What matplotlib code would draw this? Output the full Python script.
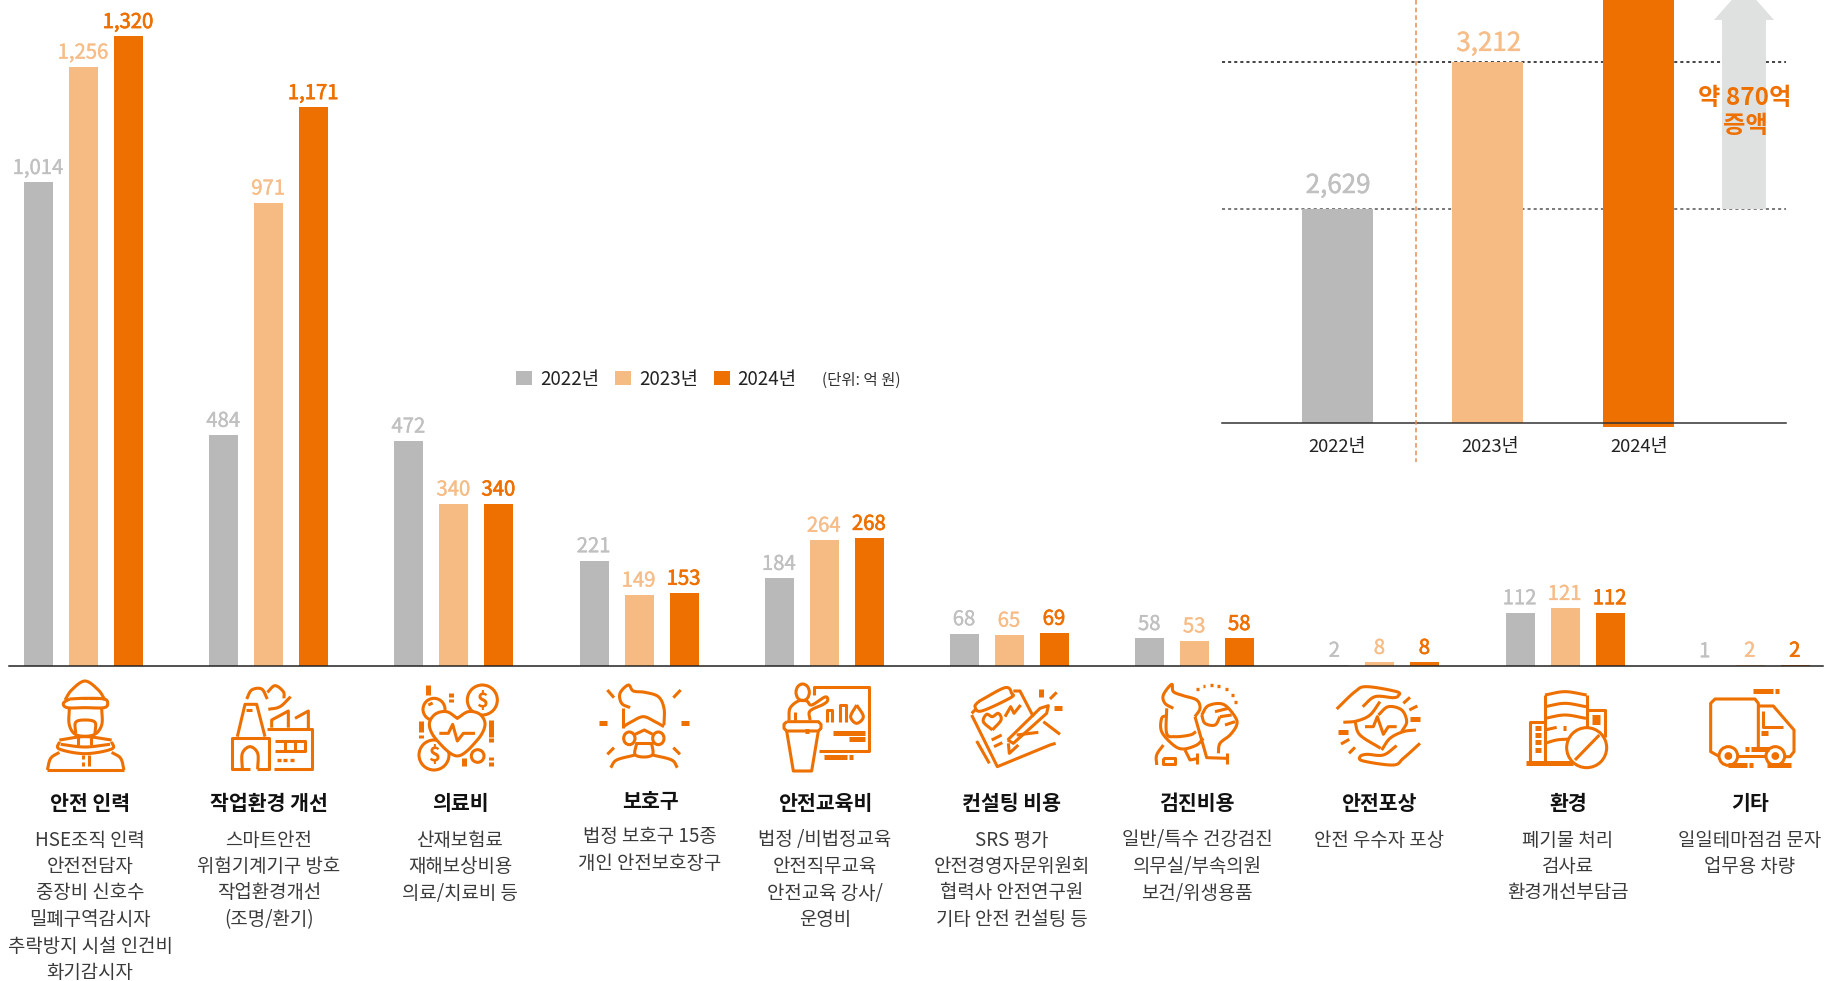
import matplotlib
matplotlib.use("Agg")
import matplotlib.pyplot as plt
import matplotlib.patheffects as pe
from matplotlib.patches import Ellipse, Polygon
import numpy as np

plt.rcParams['font.family'] = ['Noto Sans CJK KR', 'DejaVu Sans']

W, H = 1837, 981
GRAY = '#b8b9b8'
LIGHT = '#f6ba83'
ORANGE = '#ee7000'
LABEL_COLORS = ['#bfc0bf', '#f7bd88', ORANGE]

years = ['2022년', '2023년', '2024년']
values_2022 = [1014, 484, 472, 221, 184, 68, 58, 2, 112, 1]
values_2023 = [1256, 971, 340, 149, 264, 65, 53, 8, 121, 2]
values_2024 = [1320, 1171, 340, 153, 268, 69, 58, 8, 112, 2]
totals = [2629, 3212, 3501]

titles = ['안전 인력', '작업환경 개선', '의료비', '보호구', '안전교육비',
          '컨설팅 비용', '검진비용', '안전포상', '환경', '기타']
details = [
    ['HSE조직 인력', '안전전담자', '중장비 신호수', '밀폐구역감시자', '추락방지 시설 인건비', '화기감시자'],
    ['스마트안전', '위험기계기구 방호', '작업환경개선', '(조명/환기)'],
    ['산재보험료', '재해보상비용', '의료/치료비 등'],
    ['법정 보호구 15종', '개인 안전보호장구'],
    ['법정 /비법정교육', '안전직무교육', '안전교육 강사/', '운영비'],
    ['SRS 평가', '안전경영자문위원회', '협력사 안전연구원', '기타 안전 컨설팅 등'],
    ['일반/특수 건강검진', '의무실/부속의원', '보건/위생용품'],
    ['안전 우수자 포상'],
    ['폐기물 처리', '검사료', '환경개선부담금'],
    ['일일테마점검 문자', '업무용 차량'],
]
text_x = [90, 269, 460, 650, 825, 1012, 1197, 1379, 1568, 1750]


def px_axes(left, top, right, bottom, **kw):
    return fig.add_axes([left / W, 1 - bottom / H, (right - left) / W, (bottom - top) / H],
                        facecolor='none', **kw)


def heavier(color, width):
    return [pe.withStroke(linewidth=width, foreground=color)]


fig = plt.figure(figsize=(W / 100, H / 100), dpi=100, facecolor='white')

# main grouped bars
ax = px_axes(9, 0, 1823, 666, zorder=1)
step = 185.2
ax.set_xlim((9 - 83.5) / step, (1823 - 83.5) / step)
ax.set_ylim(0, 666 / 0.477)
x = np.arange(len(titles))
bar_w = 29 / step
off = 45 / step
series = [values_2022, values_2023, values_2024]
containers = []
for i, vals in enumerate(series):
    c = ax.bar(x + (i - 1) * off, vals, bar_w, color=[GRAY, LIGHT, ORANGE][i], label=years[i], zorder=2)
    containers.append(c)
    for xi, v in zip(x, vals):
        ax.annotate(f'{v:,}', (xi + (i - 1) * off, v), xytext=(-0.4, 6.0), textcoords='offset points',
                    ha='center', va='baseline', fontsize=14.6, color=LABEL_COLORS[i],
                    path_effects=heavier(LABEL_COLORS[i], 0.5 if i == 2 else 0.25), annotation_clip=False)
for s in ['top', 'left', 'right']:
    ax.spines[s].set_visible(False)
ax.spines['bottom'].set_color('#222222')
ax.spines['bottom'].set_linewidth(1.1)
ax.spines['bottom'].set_zorder(5)
ax.set_xticks([])
ax.set_yticks([])

fig.legend(handles=containers, loc='center left', bbox_to_anchor=(516 / W, 1 - 379 / H), ncol=3,
           frameon=False, fontsize=13.5, handlelength=0.85, handleheight=0.85, handletextpad=0.42,
           columnspacing=0.86, borderpad=0, borderaxespad=0, labelcolor='#222222')

# totals inset, axis does not start at zero
inset = px_axes(1222, 0, 1786, 423, zorder=2)
inset.set_xlim((1222 - 1337) / 150.5, (1786 - 1337) / 150.5)
inset.set_ylim(1780, 3458)
inset.axhline(totals[0], color='#555555', lw=1.1, ls=(0, (2, 2)), zorder=1)
inset.axhline(totals[1], color='#111111', lw=1.1, ls=(0, (2, 2)), zorder=1)
inset_bottom = np.array([1780, 1780, 1764])
inset.bar(np.arange(3), np.array(totals) - inset_bottom, 71 / 150.5, bottom=inset_bottom,
          color=[GRAY, LIGHT, ORANGE], zorder=2, clip_on=False)
for i, dy in zip(range(2), [11.5, 8.0]):
    inset.annotate(f'{totals[i]:,}', (i, totals[i]), xytext=(0.8, dy), textcoords='offset points',
                   ha='center', va='baseline', fontsize=18.7, color=LABEL_COLORS[i],
                   path_effects=heavier(LABEL_COLORS[i], 0.3))
for s in ['top', 'left', 'right']:
    inset.spines[s].set_visible(False)
inset.spines['bottom'].set_color('#333333')
inset.spines['bottom'].set_linewidth(1.1)
inset.spines['bottom'].set_zorder(5)
inset.set_xticks([0, 1.017, 2.01], years, fontsize=13.3, color='#222222')
inset.set_yticks([])
inset.tick_params(axis='x', length=0, pad=11)

# overlay in reference pixels for icons and free text
px = px_axes(0, 0, W, H, zorder=3)
px.set_xlim(0, W)
px.set_ylim(H, 0)
px.axis('off')

px.plot([1416, 1416], [0, 462], color='#e98a4e', lw=1.1, ls=(0, (3, 2)))
px.add_patch(Polygon([(1722, 209), (1722, 20), (1714, 20), (1744, -14), (1774, 20), (1766, 20), (1766, 209)],
                     closed=True, facecolor='#dfe1e0', edgecolor='none', zorder=2))
px.text(1745, 98, '약 870억', ha='center', va='center', fontsize=17.5, fontweight='bold', color=ORANGE, zorder=4)
px.text(1745, 126, '증액', ha='center', va='center', fontsize=17.5, fontweight='bold', color=ORANGE, zorder=4)
px.text(861, 380, '(단위: 억 원)', ha='center', va='center', fontsize=11.2, color='#333333')

for i, (t, lines) in enumerate(zip(titles, details)):
    shift = -3 if t == '보호구' else 0
    px.text(text_x[i], 804 + shift, t, ha='center', va='center', fontsize=14.8, fontweight='bold', color='#111111')
    for k, line in enumerate(lines):
        px.text(text_x[i], 840 + shift + k * 26.5, line, ha='center', va='center', fontsize=13.6, color='#3a3a3a')


def smooth(pts, n=12):
    p = np.array(pts, float)
    p = np.vstack([2 * p[0] - p[1], p, 2 * p[-1] - p[-2]])
    out = []
    for a, b, c, d in zip(p[:-3], p[1:-2], p[2:-1], p[3:]):
        for t in np.linspace(0, 1, n, endpoint=False):
            out.append(0.5 * (2 * b + (c - a) * t + (2 * a - 5 * b + 4 * c - d) * t ** 2 + (3 * b - a - 3 * c + d) * t ** 3))
    out.append(p[-2])
    return np.array(out)


class Icon:
    def __init__(self, ox, oy):
        self.ox, self.oy = ox, oy

    def _xy(self, p):
        p = np.asarray(p, float)
        return np.column_stack([self.ox + p[:, 0] / 3, self.oy + p[:, 1] / 3])

    def _draw(self, p, lw, z=3):
        q = self._xy(p)
        px.plot(q[:, 0], q[:, 1], color=ORANGE, lw=lw, solid_capstyle='butt', solid_joinstyle='round', zorder=z)

    def line(self, *pts, lw=2.2, z=3):
        self._draw(pts, lw, z)

    def curve(self, *pts, lw=2.2, z=3):
        self._draw(smooth(pts), lw, z)

    def thick(self, *pts):
        self._draw(pts, 3.6)

    def ring(self, cx, cy, r, ry=None, fill=False, z=3):
        ry = r if ry is None else ry
        px.add_patch(Ellipse((self.ox + cx / 3, self.oy + cy / 3), 2 * r / 3, 2 * ry / 3,
                             facecolor=ORANGE if fill else 'white', edgecolor=ORANGE, lw=2.2, zorder=z))

    def blob(self, *pts, z=3.5):
        # white filled smooth outline, hides what lies under it
        px.add_patch(Polygon(self._xy(smooth(pts)), closed=True, facecolor='white', edgecolor=ORANGE, lw=2.2, zorder=z))

    def dollar(self, cx, cy):
        px.text(self.ox + cx / 3, self.oy + cy / 3, '$', ha='center', va='center', fontsize=14.5,
                fontweight='bold', color=ORANGE, zorder=4)


# worker
a = Icon(30, 675)
a.curve((105, 75), (125, 45), (165, 18), (205, 45), (225, 75))
a.curve((118, 72), (165, 70), (222, 72), (233, 85), (222, 98), (165, 98), (112, 98), (100, 85), (118, 72))
a.line((160, 68), (170, 68)); a.line((178, 68), (205, 68))
a.curve((118, 98), (118, 150), (140, 180), (190, 180), (215, 150), (215, 98))
a.curve((137, 175), (137, 142), (165, 135), (195, 142), (195, 175))
a.curve((88, 195), (165, 185), (245, 195))
a.curve((88, 200), (88, 222), (165, 236), (245, 222), (245, 200))
a.curve((92, 208), (165, 216), (240, 208))
a.line((145, 180), (145, 210)); a.line((182, 180), (182, 210))
a.curve((88, 232), (62, 250), (52, 285)); a.line((52, 286), (282, 286))
a.curve((245, 232), (272, 250), (282, 285))
a.line((178, 240), (178, 272)); a.line((158, 240), (158, 252)); a.line((158, 260), (158, 272))

# factory
a.line((622, 185), (645, 88), (680, 88), (705, 185)); a.line((648, 105), (665, 105))
a.line((660, 283), (607, 283), (607, 190), (717, 190), (717, 283), (680, 283))
a.curve((637, 283), (637, 235), (660, 215), (683, 235), (683, 283))
a.line((712, 163), (845, 163), (845, 283), (732, 283))
a.line((725, 158), (725, 135), (775, 108), (775, 158)); a.line((795, 130), (835, 108), (835, 160))
a.line((735, 197), (825, 197), (825, 228), (735, 228)); a.line((765, 197), (765, 228)); a.line((795, 197), (795, 228))
a.line((742, 255), (752, 255), lw=2.4); a.line((760, 255), (770, 255), lw=2.4); a.line((780, 255), (792, 255), lw=2.4)
a.curve((650, 72), (665, 45), (695, 42), (712, 72))
a.curve((712, 52), (735, 32), (760, 50), (762, 70))
a.curve((715, 103), (750, 95), (782, 65))

# heart and coins
a.ring(1212, 103, 33); a.line((1195, 90), (1208, 84), z=3.2)
a.ring(1357, 75, 45); a.dollar(1357, 75)
a.ring(1212, 240, 45); a.dollar(1212, 240)
a.ring(1343, 243, 19)
a.blob((1282, 130), (1250, 110), (1215, 118), (1198, 150), (1220, 195), (1282, 243),
       (1342, 195), (1365, 150), (1350, 118), (1315, 110), (1282, 130))
a.line((1228, 175), (1255, 175), (1268, 148), (1282, 198), (1300, 175), (1335, 175), z=4)
a.thick((1193, 30), (1193, 60)); a.thick((1173, 138), (1173, 172)); a.thick((1173, 180), (1173, 190))
a.thick((1383, 135), (1383, 185)); a.thick((1383, 190), (1383, 200))
a.thick((1262, 55), (1262, 65)); a.thick((1262, 72), (1262, 82)); a.thick((1302, 250), (1302, 272))
a.thick((1383, 245), (1383, 255)); a.thick((1383, 262), (1383, 272))

# head with respirator
a = Icon(590, 675)
a.curve((120, 98), (95, 85), (90, 55), (115, 30), (130, 48), (165, 52), (205, 65), (222, 100), (222, 150))
a.line((100, 98), (100, 160))
a.curve((100, 155), (125, 140), (160, 125), (195, 140), (222, 155))
a.ring(118, 190, 17, 19); a.ring(205, 190, 17, 19)
a.line((135, 178), (163, 165), (188, 178))
a.line((135, 205), (188, 205))
a.curve((140, 205), (135, 238), (162, 246), (188, 238), (185, 205))
a.curve((62, 278), (80, 255), (135, 240)); a.curve((188, 240), (245, 255), (262, 278))
a.line((52, 45), (72, 68)); a.line((272, 45), (250, 68)); a.line((52, 238), (72, 218)); a.line((270, 238), (250, 218))
a.thick((27, 143), (50, 143)); a.thick((273, 143), (297, 143))

# lecture
a.line((672, 60), (672, 35), (838, 35), (838, 228), (688, 228))
a.ring(638, 52, 20, 25)
a.curve((597, 135), (600, 100), (625, 78), (650, 78), (665, 90), (705, 66), (713, 76), (700, 88), (660, 108), (660, 135))
a.line((615, 110), (615, 135))
a.line((590, 140), (685, 140), (693, 148), (693, 160), (685, 168), (590, 168), (582, 160), (582, 148), (590, 140))
a.line((590, 168), (610, 288), (665, 288), (685, 168)); a.thick((645, 168), (657, 168))
a.line((710, 140), (710, 105), (725, 105), (725, 140)); a.line((750, 140), (750, 90), (768, 90), (768, 140))
a.curve((800, 90), (782, 125), (800, 145), (820, 125), (800, 90))
a.thick((730, 173), (825, 173)); a.thick((778, 192), (825, 192)); a.thick((702, 245), (770, 245)); a.thick((778, 245), (789, 245))

# consulting notepad
a.line((1145, 120), (1222, 275), (1380, 210), (1397, 205))
a.curve((1165, 80), (1245, 38), (1265, 55), (1262, 68), (1175, 108), (1155, 95), (1165, 80))
a.line((1270, 48), (1290, 48), (1330, 125)); a.line((1145, 115), (1160, 100))
a.curve((1207, 165), (1180, 140), (1190, 118), (1207, 125), (1225, 115), (1233, 135), (1207, 165))
a.line((1245, 125), (1262, 95), (1272, 115), (1292, 90))
a.line((1253, 195), (1350, 100), (1375, 92), (1370, 115), (1270, 205), (1253, 195))
a.line((1255, 205), (1258, 235), (1285, 210))
a.line((1205, 195), (1235, 180)); a.line((1212, 215), (1237, 203)); a.line((1160, 198), (1198, 265))
a.line((1360, 140), (1410, 178)); a.line((1280, 180), (1345, 172))
a.thick((1353, 42), (1353, 65)); a.line((1380, 72), (1400, 52)); a.thick((1392, 98), (1416, 98))

# checkup
a = Icon(1140, 675)
a.curve((100, 100), (75, 85), (70, 60), (95, 28), (100, 50), (130, 62), (170, 75), (180, 100), (165, 125))
a.curve((80, 100), (80, 175), (105, 185), (150, 180), (168, 170))
a.curve((80, 122), (65, 130), (65, 170), (100, 210), (130, 222), (170, 210), (190, 190))
a.curve((50, 270), (50, 240), (70, 210))
a.line((70, 248), (105, 248), (105, 268), (70, 268), (70, 248))
a.curve((185, 120), (205, 92), (250, 88), (285, 125), (290, 150), (270, 180), (240, 205), (235, 235))
a.curve((185, 120), (195, 145), (225, 150), (240, 125))
a.line((225, 110), (265, 100)); a.line((240, 125), (275, 120)); a.line((255, 150), (285, 140))
a.line((165, 125), (195, 230), (200, 248), (260, 250))
a.line((172, 235), (172, 268)); a.line((260, 235), (260, 268)); a.line((135, 225), (150, 255), (175, 250))
for d in [(172, 42), (192, 34), (214, 31), (236, 34), (259, 42), (278, 60), (286, 82)]:
    a.line((d[0] - 4, d[1]), (d[0] + 4, d[1]), lw=2.4)

# hands and heart
a.curve((590, 102), (645, 50), (680, 35), (770, 50), (775, 62), (760, 68), (705, 65), (668, 95))
a.curve((610, 142), (650, 138), (690, 120), (720, 80))
a.curve((645, 140), (660, 180), (722, 220))
a.curve((715, 120), (745, 95), (785, 105), (800, 140), (785, 170))
a.line((675, 155), (700, 155), (712, 125), (730, 178), (745, 155), (770, 155))
a.curve((828, 165), (790, 170), (750, 190), (725, 225))
a.curve((840, 205), (790, 250), (760, 270), (670, 258), (660, 245), (680, 238), (730, 240), (770, 212))
a.line((790, 85), (810, 67)); a.line((808, 105), (832, 93)); a.thick((810, 132), (840, 132))
a.thick((595, 170), (625, 170)); a.line((603, 207), (628, 193)); a.line((627, 235), (645, 217))

# building
a.thick((1158, 263), (1300, 263))
a.line((1215, 263), (1215, 60)); a.curve((1215, 60), (1275, 50), (1340, 60)); a.line((1340, 60), (1340, 160))
a.curve((1215, 95), (1275, 85), (1338, 95)); a.curve((1215, 130), (1275, 120), (1338, 130))
a.curve((1215, 165), (1250, 157)); a.curve((1215, 205), (1250, 195), (1290, 192))
a.thick((1268, 158), (1278, 158))
a.line((1170, 263), (1170, 140), (1212, 140))
for yy in (158, 180, 202, 226):
    a.thick((1185, yy), (1203, yy))
a.line((1342, 105), (1395, 105), (1395, 185)); a.thick((1355, 125), (1380, 125)); a.thick((1355, 142), (1380, 142))
a.ring(1340, 218, 60)
a.line((1305, 255), (1378, 180), z=4)

# truck
a = Icon(1500, 620)
a.line((655, 408), (632, 395), (632, 250), (645, 237), (765, 237), (775, 250), (775, 385))
a.line((775, 258), (820, 258), (882, 330), (882, 395), (870, 410), (855, 410))
a.line((790, 272), (790, 322), (848, 322)); a.thick((783, 340), (803, 340))
a.line((713, 408), (797, 408))
a.ring(685, 408, 28); a.ring(826, 408, 28)
a.ring(685, 408, 7, fill=True, z=3.5); a.ring(826, 408, 7, fill=True, z=3.5)
a.thick((753, 388), (808, 388)); a.thick((735, 388), (747, 388))
a.thick((685, 435), (740, 435)); a.thick((748, 435), (758, 435)); a.thick((800, 435), (872, 435))
a.thick((759, 212), (818, 212)); a.thick((825, 212), (836, 212))

fig.savefig('out.png', dpi=100)
